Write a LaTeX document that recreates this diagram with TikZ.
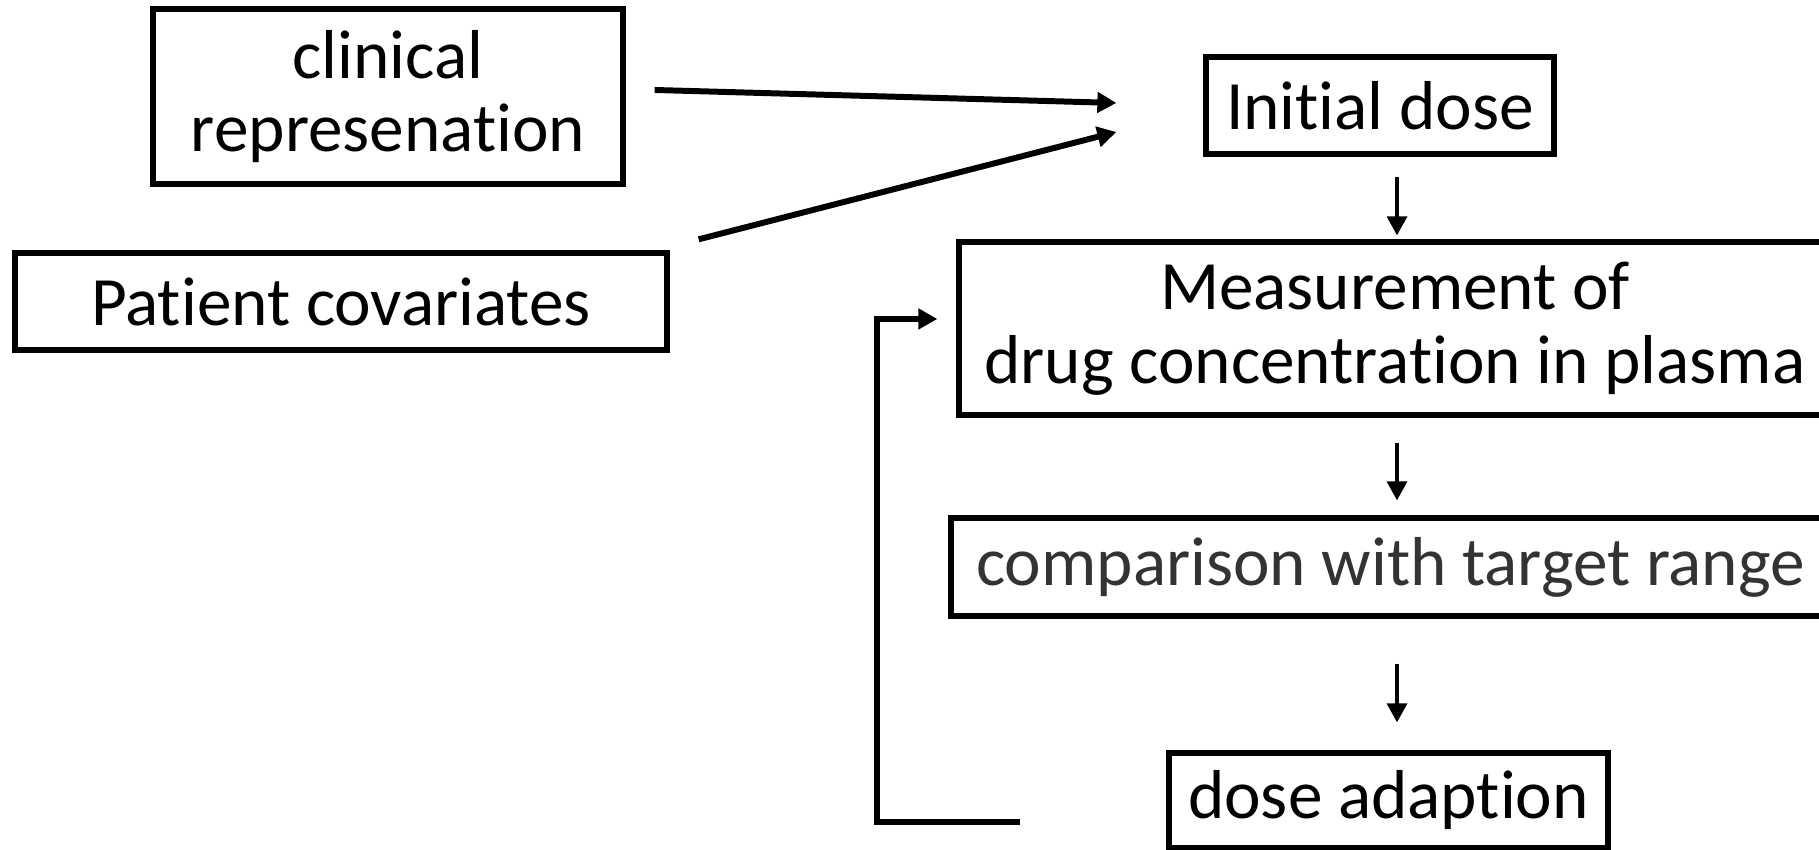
\documentclass[tikz,border=0pt]{standalone}
\usepackage{fontspec}
\setmainfont{Carlito}[Ligatures=NoCommon]
\usetikzlibrary{arrows.meta}
\definecolor{cmpG}{RGB}{51,51,51}

\begin{document}
\begin{tikzpicture}[>={Triangle[length=1.9mm,width=2mm]},
 box/.style={draw,line width=1.5pt,align=center,inner sep=0pt,font=\fontsize{19.7}{21}\selectfont},
 thk/.style={->,line width=1.7pt},thn/.style={->,line width=1pt}]
\useasboundingbox (0,0) rectangle (18.19,8.5);
\node[box,minimum width=4.70cm,minimum height=1.75cm] (clin) at (3.88,7.535) {clinical\\represenation};
\node[box,minimum width=6.52cm,minimum height=0.97cm] (pat) at (3.41,5.485) {Patient covariates};
\node[box,minimum width=3.48cm,minimum height=0.97cm] (init) at (13.80,7.445) {Initial dose};
\node[box,minimum width=8.72cm,minimum height=1.73cm] (meas) at (13.95,5.215) {Measurement of\\drug concentration in plasma};
\node[box,minimum width=8.79cm,minimum height=0.98cm,text=cmpG] (comp) at (13.905,2.83) {comparison with target range};
\node[box,minimum width=4.39cm,minimum height=0.95cm] (dose) at (13.885,0.495) {dose adaption};
\coordinate (col) at (13.97,0);
\coordinate (in1) at ([shift={(-0.87,0.025)}]init.west); \coordinate (in2) at ([shift={(-0.87,-0.265)}]init.west);
% inputs to the initial dose
\draw[thk] ([shift={(0.29,0.065)}]clin.east) -- (in1);
\draw[thk] ([shift={(0.29,0.11)}]pat.north east) -- (in2);
% main chain
\draw[thn,shorten <=0.2cm,shorten >=0.04cm] (init.south -| col) -- (meas.north -| col);
\draw[thn,shorten <=0.25cm,shorten >=0.15cm] (meas.south -| col) -- (comp.north -| col);
\draw[thn,shorten <=0.45cm,shorten >=0.28cm] (comp.south -| col) -- (dose.north -| col);
% feedback loop
\coordinate (fbS) at ([shift={(-1.46,-0.215)}]dose.west); \coordinate (fbE) at ([shift={(-0.19,0.095)}]meas.west);
\draw[thk] (fbS) -- ++(-1.43,0) |- (fbE);
\end{tikzpicture}
\end{document}
